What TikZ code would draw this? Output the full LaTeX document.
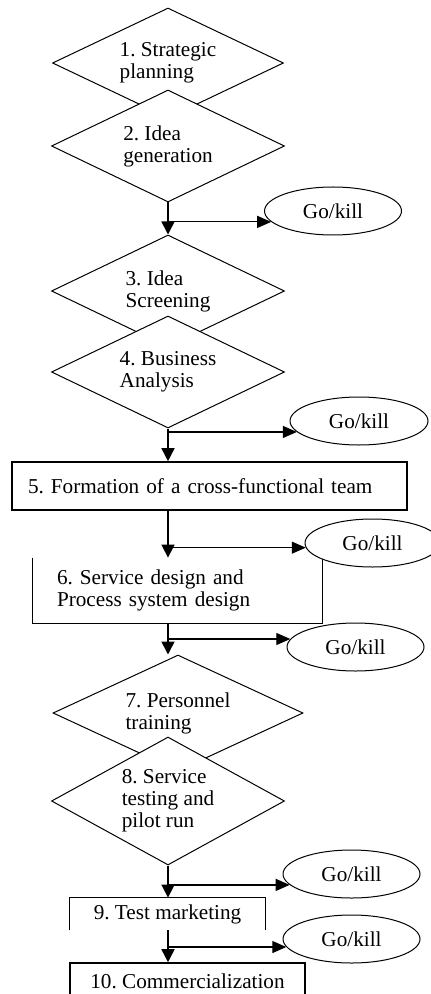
\documentclass[tikz,border=0pt]{standalone}
\usepackage{fontspec}
\setmainfont{Liberation Serif}
\usetikzlibrary{shapes.geometric,arrows.meta}
\frenchspacing

\begin{document}
\begin{tikzpicture}[x=0.5pt,y=-0.5pt,
	font=\fontsize{10.6}{11}\selectfont,
	stage node/.style={diamond,draw,fill=white,line width=0.5pt,aspect=2,inner sep=0pt,align=left,minimum width=116.5pt,minimum height=56pt},
	gate node/.style={ellipse,draw,fill=white,line width=0.5pt,inner sep=0pt,minimum width=68.5pt,minimum height=24pt},
	task node/.style={rectangle,draw,line width=0.8pt,inner sep=0pt},
	open node/.style={rectangle,inner sep=0pt},
	flow/.style={-{Triangle[length=6.5pt,width=6.5pt]},line width=0.8pt},
	side flow/.style={-{Triangle[length=7pt,width=6pt]},line width=0.6pt}
]
	\useasboundingbox (0,0) rectangle (430,994);

	% idea stages
	\node[stage node,minimum width=115.5pt,minimum height=55pt] (s1) at (168,63) {1. Strategic\\planning};
	\node[stage node] (s2) at (168,146) {2. Idea\\generation};
	\node[stage node] (s3) at (168,291) {3. Idea\\Screening};
	\node[stage node] (s4) at (168,372) {4. Business\\Analysis};

	\node[gate node] (g1) at (333,211) {Go/kill};
	\coordinate (j1) at (s2.south |- g1.190);
	\draw[flow] (s2.south) -- (s3.north);
	\draw[side flow] (j1) -- (g1.190);

	% team and design
	\node[task node,minimum height=24pt,text width=181.5pt,inner xsep=8pt,align=left] (t5) at (209.5,486) {5. Formation of a cross-functional team};
	\node[gate node,minimum width=69pt] (g2) at (359,421) {Go/kill};
	\coordinate (j2) at (s4.south |- g2.190);
	\draw[flow] (s4.south) -- (s4.south |- t5.north);
	\draw[side flow] (j2) -- (g2.190);

	\node[open node,minimum height=32.5pt,text width=120.5pt,inner xsep=12pt,align=left] (t6) at (177.5,590.5) {6. Service design and\\Process system design};
	\draw[line width=0.8pt] (t6.north west) -- (t6.south west) -- (t6.south east) -- (t6.north east);
	\node[gate node,minimum width=67.5pt] (g3) at (372.5,543) {Go/kill};
	\coordinate (j3) at (s4.south |- g3.184);
	\draw[flow] (s4.south |- t5.south) -- (s4.south |- t6.north);
	\draw[side flow] (j3) -- (g3.184);

	% training and testing
	\node[stage node,minimum width=125pt,minimum height=58pt] (s7) at (178,713) {7. Personnel\\training};
	\node[stage node,minimum height=64pt] (s8) at (168,801) {8. Service\\testing and\\pilot run};

	\node[gate node] (g4) at (355.5,647) {Go/kill};
	\coordinate (j4) at (s4.south |- g4.173);
	\draw[flow] (s4.south |- t6.south) -- (s4.south |- s7.north);
	\draw[side flow] (j4) -- (g4.173);

	% market
	\node[open node,minimum width=97.5pt,minimum height=16pt] (t9) at (167.5,914) {9. Test marketing};
	\draw[line width=0.5pt] (t9.south west) -- (t9.north west) -- (t9.north east) -- (t9.south east);
	\node[task node,minimum width=117.5pt,minimum height=18pt] (t10) at (187.5,981) {10. Commercialization};

	\node[gate node] (g5) at (351.5,874) {Go/kill};
	\coordinate (j5) at (s8.south |- g5.190);
	\draw[flow] (s8.south) -- (s8.south |- t9.north);
	\draw[side flow] (j5) -- (g5.190);

	\node[gate node] (g6) at (351.5,939) {Go/kill};
	\coordinate (j6) at (s8.south |- g6.187);
	\draw[flow] (s8.south |- t9.south) -- (s8.south |- t10.north);
	\draw[side flow] (j6) -- (g6.187);
\end{tikzpicture}
\end{document}
